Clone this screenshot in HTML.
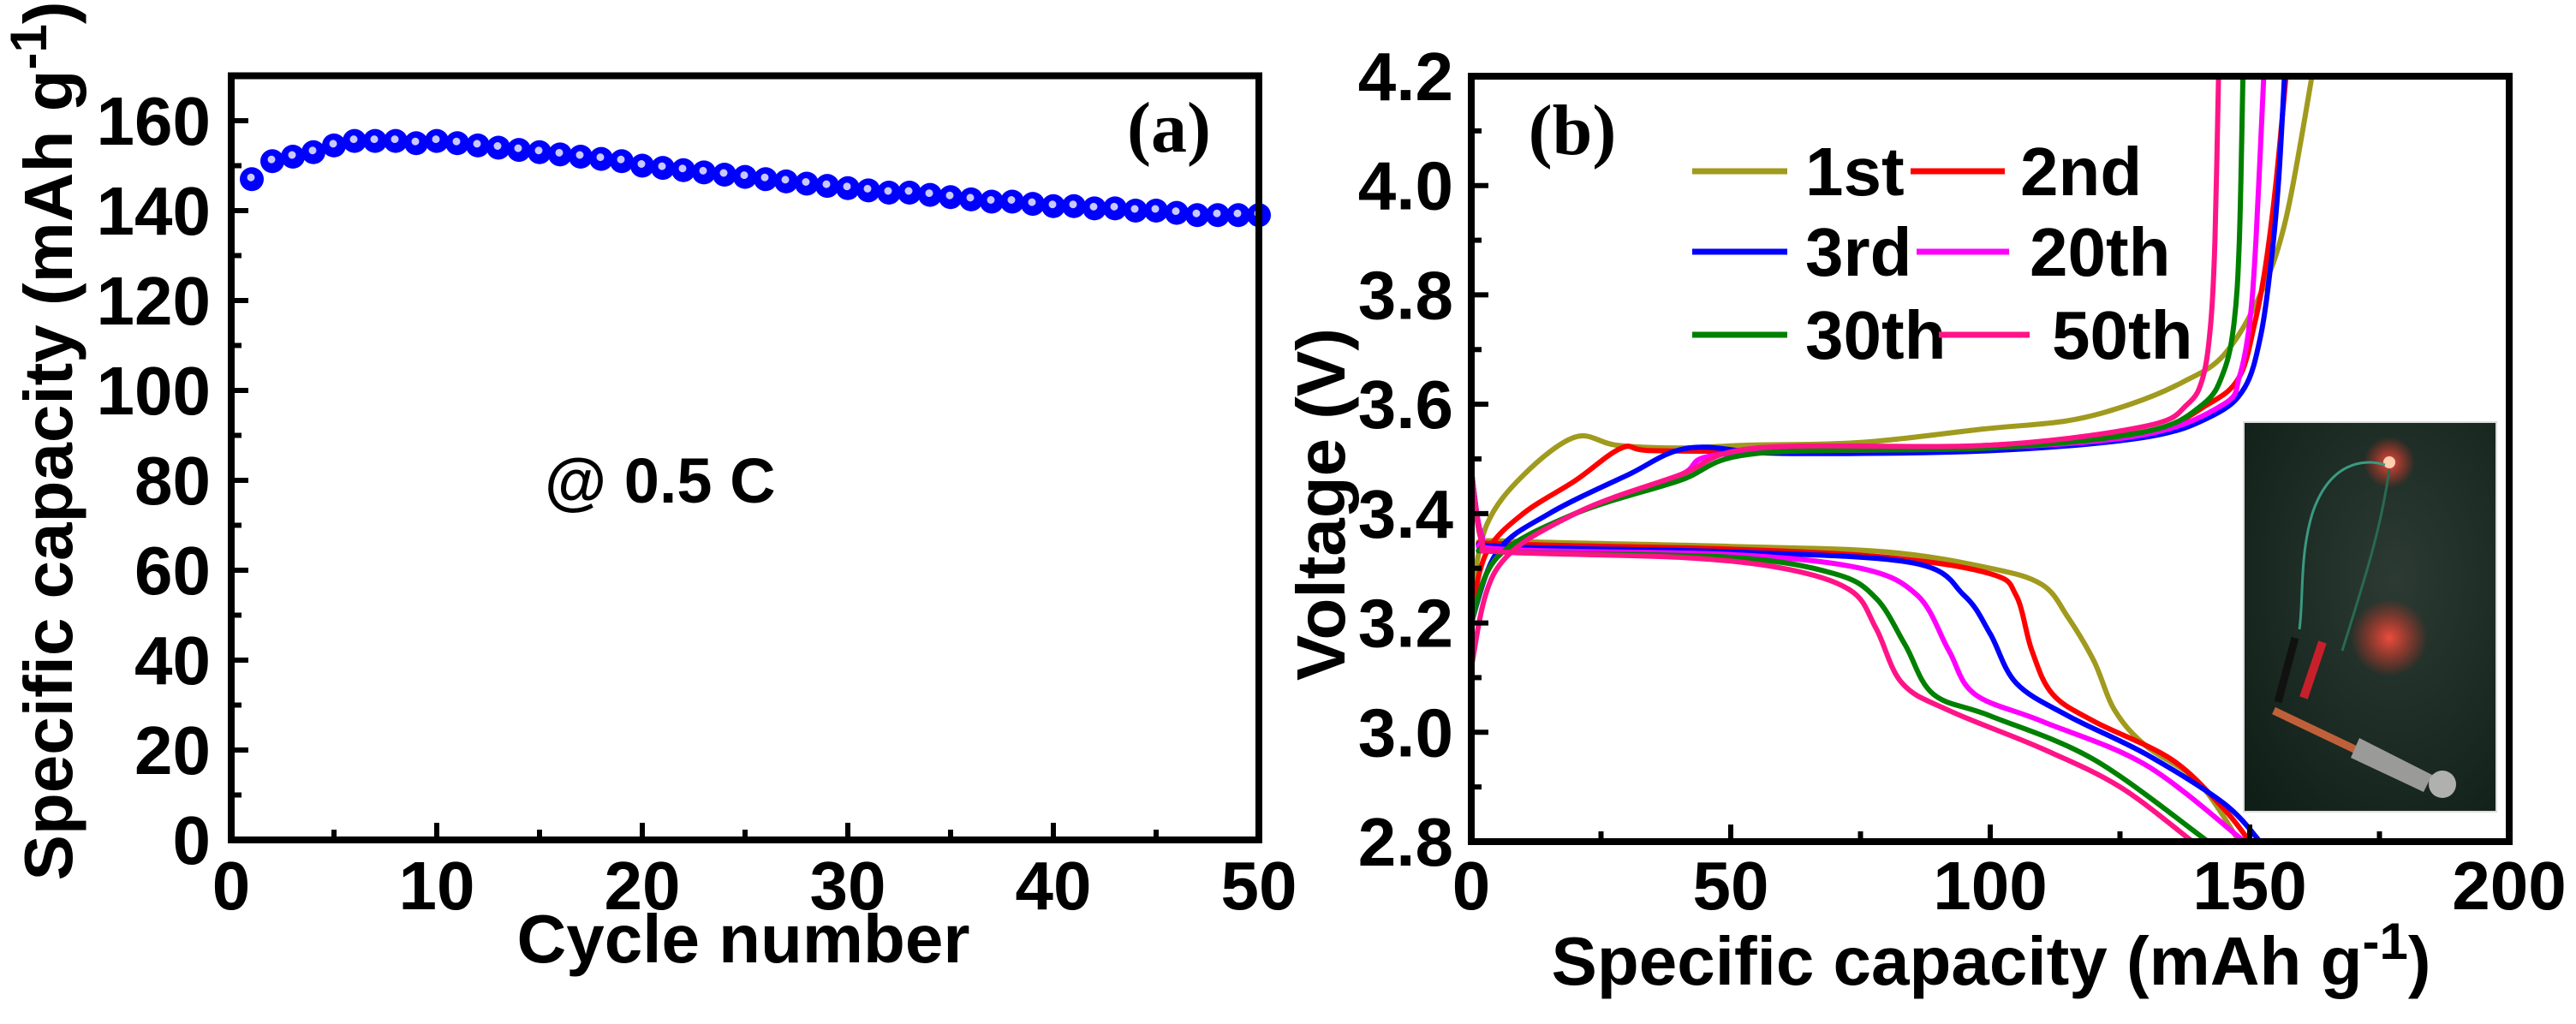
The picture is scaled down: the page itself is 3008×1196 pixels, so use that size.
<!DOCTYPE html>
<html><head><meta charset="utf-8"><style>
html,body{margin:0;padding:0;background:#fff;}
svg{display:block;}
text{font-family:"Liberation Sans",Arial,sans-serif;font-weight:bold;fill:#000;}
</style></head><body>
<svg id="fig" width="3008" height="1196" viewBox="0 0 3008 1196" xmlns="http://www.w3.org/2000/svg">
<g id="pa"></g>
<g id="pb"></g>
</svg>
<script>
// ---- Panel (a) data ----
const cycles = [];
for (let i = 1; i <= 50; i++) cycles.push(i);
const capacityA = [147,151,152,153,154.5,155.5,155.5,155.5,155,155.5,155,154.5,154,153.5,153,152.5,152,151.5,151,150,149.5,149,148.5,148,147.5,147,146.5,146,145.5,145,144.5,144,144,143.5,143,142.5,142,142,141.5,141,141,140.5,140.5,140,140,139.5,139,139,139,139];
const aYTicks = [0,20,40,60,80,100,120,140,160];
const aXTicks = [0,10,20,30,40,50];

// ---- Panel (b) data: [capacity, voltage] ----
const cycleLabels = ["1st","2nd","3rd","20th","30th","50th"];
const cycleColors = ["#a09a1e","#ff0000","#0000ff","#ff00ff","#008000","#ff1488"];
const charge1 = [[0,3.25],[3,3.38],[10,3.47],[20,3.54],[28,3.525],[40,3.52],[53,3.525],[75,3.53],[99,3.555],[115,3.57],[127,3.6],[137,3.64],[145,3.69],[152,3.8],[157,3.94],[162,4.2]];
const charge2 = [[0,3.22],[3,3.33],[10,3.40],[20,3.46],[29,3.52],[35,3.515],[60,3.515],[100,3.525],[130,3.55],[142,3.6],[148,3.65],[151,3.75],[153,3.85],[155,4.0],[157,4.2]];
const charge3 = [[0,3.2],[5,3.33],[15,3.40],[30,3.47],[42,3.52],[60,3.51],[100,3.515],[130,3.54],[143,3.58],[149,3.63],[152,3.72],[154,3.85],[155.5,4.0],[156.7,4.2]];
const charge20 = [[0,3.2],[5,3.32],[20,3.40],[40,3.47],[50,3.51],[100,3.52],[130,3.545],[145,3.6],[148,3.65],[150,3.75],[151.2,3.9],[152.7,4.2]];
const charge30 = [[0,3.2],[5,3.32],[20,3.40],[40,3.46],[55,3.51],[100,3.52],[130,3.55],[141,3.6],[145,3.66],[147,3.75],[148,3.9],[148.7,4.2]];
const charge50 = [[0,3.12],[5,3.30],[20,3.40],[40,3.47],[55,3.52],[100,3.525],[130,3.56],[138,3.6],[141,3.65],[142.5,3.75],[143.3,3.9],[144,4.2]];
const dis1 = [[0,3.48],[2,3.36],[6,3.35],[50,3.34],[80,3.33],[100,3.30],[110,3.27],[115,3.21],[120,3.13],[124,3.04],[130,2.975],[140,2.91],[148,2.8]];
const dis2 = [[0,3.48],[2,3.36],[6,3.345],[50,3.335],[80,3.32],[100,3.29],[105,3.25],[108,3.15],[112,3.07],[120,3.02],[135,2.95],[145,2.86],[150,2.8]];
const dis3 = [[0,3.48],[2,3.36],[6,3.34],[50,3.33],[85,3.31],[95,3.25],[100,3.18],[105,3.09],[115,3.03],[130,2.96],[145,2.87],[152,2.8]];
const dis20 = [[0,3.48],[2,3.36],[6,3.335],[50,3.325],[75,3.3],[86,3.25],[92,3.15],[97,3.07],[110,3.02],[130,2.94],[149,2.8]];
const dis30 = [[0,3.48],[2,3.35],[6,3.33],[50,3.32],[70,3.29],[78,3.245],[83.6,3.16],[89,3.07],[100,3.03],[120,2.95],[142,2.8]];
const dis50 = [[0,3.48],[2,3.35],[6,3.33],[40,3.32],[60,3.3],[73,3.26],[78,3.19],[83,3.09],[92,3.04],[110,2.97],[125,2.9],[139,2.8]];
const chargeSeries = [charge1,charge2,charge3,charge20,charge30,charge50];
const dischargeSeries = [dis1,dis2,dis3,dis20,dis30,dis50];
const bYTicks = [2.8,3.0,3.2,3.4,3.6,3.8,4.0,4.2];
const bXTicks = [0,50,100,150,200];

const NS = "http://www.w3.org/2000/svg";
function mk(parent, tag, attrs, txt){
  const e = document.createElementNS(NS, tag);
  for (const k in attrs) e.setAttribute(k, attrs[k]);
  if (txt !== undefined) e.textContent = txt;
  parent.appendChild(e);
  return e;
}

// ---- axis functions ----
const A = {x0:270,x1:1470,y0:981,y1:88.5,xmin:0,xmax:50,ymin:0,ymax:170};
const B = {x0:1718,x1:2930,y0:983,y1:89,xmin:0,xmax:200,ymin:2.8,ymax:4.2};
function sx(P,v){return P.x0+(v-P.xmin)/(P.xmax-P.xmin)*(P.x1-P.x0);}
function sy(P,v){return P.y0-(v-P.ymin)/(P.ymax-P.ymin)*(P.y0-P.y1);}

function smoothPath(P, pts){
  const p = pts.map(d=>[sx(P,d[0]),sy(P,d[1])]);
  let s = "M"+p[0][0].toFixed(1)+","+p[0][1].toFixed(1);
  for (let i=0;i<p.length-1;i++){
    const p0=p[i-1]||p[i], p1=p[i], p2=p[i+1], p3=p[i+2]||p2;
    const c1=[p1[0]+(p2[0]-p0[0])/6, p1[1]+(p2[1]-p0[1])/6];
    const c2=[p2[0]-(p3[0]-p1[0])/6, p2[1]-(p3[1]-p1[1])/6];
    s+=" C"+c1[0].toFixed(1)+","+c1[1].toFixed(1)+" "+c2[0].toFixed(1)+","+c2[1].toFixed(1)+" "+p2[0].toFixed(1)+","+p2[1].toFixed(1);
  }
  return s;
}

// ================= Panel A =================
const pa = document.getElementById("pa");
const ma = mk(pa,"g",{});


cycles.forEach((c,i)=>{
  const cx=sx(A,c), cy=sy(A,capacityA[i]);
  const m = mk(ma,"circle",{cx:cx,cy:cy,r:14,fill:"#0000ff"});
  
  
  const d = mk(ma,"circle",{cx:cx-1,cy:cy-2,r:4.5,fill:"#c8c8ff"});
  
  
});
const fa = mk(pa,"rect",{x:A.x0,y:A.y1,width:A.x1-A.x0,height:A.y0-A.y1,fill:"none",stroke:"#000","stroke-width":8});


for (let v=0; v<=170; v+=10){
  const y=sy(A,v), major=(v%20===0);
  const t=mk(pa,"line",{x1:A.x0,x2:A.x0+(major?20:12),y1:y,y2:y,stroke:"#000","stroke-width":6});
  
  
}
for (let v=5; v<50; v+=5){
  const x=sx(A,v), major=(v%10===0);
  const t=mk(pa,"line",{x1:x,x2:x,y1:A.y0,y2:A.y0-(major?20:12),stroke:"#000","stroke-width":6});
  
  
}
aYTicks.forEach(v=>{
  const t=mk(pa,"text",{x:246,y:sy(A,v)+28,"font-size":80,"text-anchor":"end"},String(v));
  
  
});
aXTicks.forEach(v=>{
  const t=mk(pa,"text",{x:sx(A,v),y:1062,"font-size":80,"text-anchor":"middle"},String(v));
  
  
});
let t;
t=mk(pa,"text",{x:868,y:1124,"font-size":80,"text-anchor":"middle"},"Cycle number");


t=mk(pa,"text",{x:0,y:0,"font-size":80,"text-anchor":"middle",transform:"translate(84,515) rotate(-90)"});


t.innerHTML='Specific capacity (mAh g<tspan dy="-30" font-size="60">-1</tspan><tspan dy="30">)</tspan>';
t=mk(pa,"text",{x:1365,y:177,"font-size":84,"text-anchor":"middle"},"(a)");
t.style.fontFamily='"Liberation Serif",serif';


t=mk(pa,"text",{x:636,y:587,"font-size":74},"@ 0.5 C");



// ================= Panel B =================
const pb = document.getElementById("pb");
const ins = mk(pb,"g",{});


const defs = mk(pb,"defs",{});
defs.innerHTML='<radialGradient id="glow1"><stop offset="0" stop-color="#ff5040" stop-opacity="0.9"/><stop offset="1" stop-color="#ff3020" stop-opacity="0"/></radialGradient><radialGradient id="bgg" cx="0.6" cy="0.4" r="0.8"><stop offset="0" stop-color="#2c3a33"/><stop offset="1" stop-color="#0f1f18"/></radialGradient>';
mk(ins,"rect",{x:2620,y:493,width:295,height:455,fill:"url(#bgg)",stroke:"#ddd","stroke-width":2});
mk(ins,"circle",{cx:2790,cy:745,r:45,fill:"url(#glow1)"});
mk(ins,"circle",{cx:2790,cy:540,r:30,fill:"url(#glow1)"});
mk(ins,"circle",{cx:2790,cy:540,r:7,fill:"#ffd0b0"});
mk(ins,"path",{d:"M2785,543 C2760,535 2720,540 2700,600 C2685,650 2690,700 2685,735",fill:"none",stroke:"#3a9a80","stroke-width":3});
mk(ins,"path",{d:"M2790,548 C2780,620 2760,680 2735,760",fill:"none",stroke:"#2a6a50","stroke-width":3});
mk(ins,"path",{d:"M2680,745 L2660,820",fill:"none",stroke:"#111","stroke-width":9});
mk(ins,"path",{d:"M2712,750 L2690,815",fill:"none",stroke:"#c8202a","stroke-width":10});
mk(ins,"path",{d:"M2655,830 L2760,880",fill:"none",stroke:"#c0603a","stroke-width":9});
mk(ins,"path",{d:"M2755,862 L2840,905 L2830,925 L2745,885 Z",fill:"#9a9a98"});
mk(ins,"circle",{cx:2852,cy:916,r:16,fill:"#b0b0ae"});

const cg = mk(pb,"g",{fill:"none","stroke-width":6,"stroke-linejoin":"round","stroke-linecap":"round"});


for (let k=0;k<6;k++){
  const c = mk(cg,"path",{d:smoothPath(B,chargeSeries[k]),stroke:cycleColors[k]});
  
  
  const d = mk(cg,"path",{d:smoothPath(B,dischargeSeries[k]),stroke:cycleColors[k]});
  
  
}
const fb = mk(pb,"rect",{x:B.x0,y:B.y1,width:B.x1-B.x0,height:B.y0-B.y1,fill:"none",stroke:"#000","stroke-width":8});


for (let i=1;i<14;i++){
  const v=2.8+i*0.1, y=sy(B,v), major=(i%2===0);
  const tk=mk(pb,"line",{x1:B.x0,x2:B.x0+(major?20:12),y1:y,y2:y,stroke:"#000","stroke-width":6});
  
  
}
for (let v=25; v<200; v+=25){
  const x=sx(B,v), major=(v%50===0);
  const tk=mk(pb,"line",{x1:x,x2:x,y1:B.y0,y2:B.y0-(major?20:12),stroke:"#000","stroke-width":6});
  
  
}
bYTicks.forEach(v=>{
  const tl=mk(pb,"text",{x:1697,y:sy(B,v)+28,"font-size":80,"text-anchor":"end"},v.toFixed(1));
  
  
});
bXTicks.forEach(v=>{
  const tl=mk(pb,"text",{x:sx(B,v),y:1062,"font-size":80,"text-anchor":"middle"},String(v));
  
  
});
t=mk(pb,"text",{x:2325,y:1150,"font-size":80,"text-anchor":"middle"});


t.innerHTML='Specific capacity (mAh g<tspan dy="-30" font-size="60">-1</tspan><tspan dy="30">)</tspan>';
t=mk(pb,"text",{x:0,y:0,"font-size":80,"text-anchor":"middle",transform:"translate(1570,589) rotate(-90)"},"Voltage (V)");


t=mk(pb,"text",{x:1836,y:180,"font-size":84,"text-anchor":"middle"},"(b)");
t.style.fontFamily='"Liberation Serif",serif';



const legLineX = [[1976,2087],[2231,2341],[1976,2087],[2238,2346],[1976,2087],[2264,2370]];
const legTextX = [2108,2359,2108,2370,2108,2396];
const legRowY = [200,294,391];
const lg = mk(pb,"g",{});


for (let k=0;k<6;k++){
  const row=Math.floor(k/2), y=legRowY[row];
  const ln=mk(lg,"line",{x1:legLineX[k][0],x2:legLineX[k][1],y1:y,y2:y,stroke:cycleColors[k],"stroke-width":7});
  
  
  const lt=mk(lg,"text",{x:legTextX[k],y:y+28,"font-size":80},cycleLabels[k]);
  
  
}
</script>
</body></html>
